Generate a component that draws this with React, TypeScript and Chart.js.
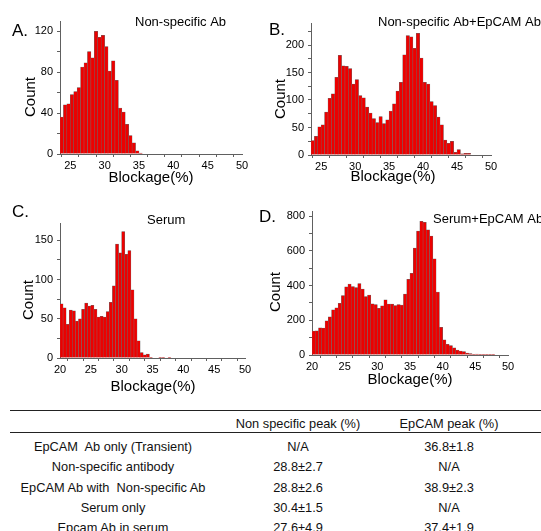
import React, { useEffect, useRef } from "react";
import { Chart, registerables } from "chart.js";

Chart.register(...registerables);

const FONT = '"Liberation Sans", Arial, Helvetica, sans-serif';

// ---------- data ----------
const BIN_WIDTH = 0.5;

// Panel A: Non-specific Ab (bins start at 23.5 %)
const A_START = 23.5;
const A_COUNTS = [36, 48, 49, 58, 61, 65, 85, 89, 100, 94, 120, 114, 116, 105, 81, 91, 72, 45, 41, 29, 18, 11, 3, 1];

// Panel B: Non-specific Ab + EpCAM Ab (bins start at 23.5 %)
const B_START = 23.5;
const B_COUNTS = [26, 34, 51, 55, 78, 103, 111, 141, 181, 162, 161, 157, 129, 137, 108, 104, 87, 76, 66, 59, 70, 57, 64, 80, 93, 116, 132, 182, 217, 215, 194, 221, 176, 132, 129, 97, 90, 69, 55, 27, 21, 25, 5, 10, 2, 3, 3];

// Panel C: Serum (bins start at 20 %)
const C_START = 20;
const C_COUNTS = [69, 64, 43, 61, 60, 47, 50, 62, 70, 66, 67, 62, 52, 53, 52, 59, 71, 92, 145, 134, 161, 132, 137, 87, 50, 22, 7, 4, 5, 1, 0, 0, 1, 1, 0, 1];

// Panel D: Serum + EpCAM Ab (bins start at 20 %)
const D_START = 20;
const D_COUNTS = [138, 140, 156, 155, 197, 220, 261, 272, 298, 342, 393, 409, 394, 389, 412, 380, 337, 346, 295, 291, 269, 284, 318, 293, 293, 285, 290, 288, 351, 436, 471, 616, 714, 771, 765, 721, 685, 555, 363, 159, 88, 61, 54, 42, 29, 23, 19, 11, 8, 4, 6, 4, 4, 2, 1, 1];

const PANEL_LETTERS = ["A.", "B.", "C.", "D."];
const PANEL_TITLES = ["Non-specific Ab", "Non-specific Ab+EpCAM Ab", "Serum", "Serum+EpCAM Ab"];
const X_TITLE = "Blockage(%)";
const Y_TITLE = "Count";

// axis ranges / tick steps
const X_MINS = [23.5, 23.5, 20, 20];
const X_MAX = 50;
const X_MINOR_STEP = 2.5;
const X_LABEL_STEP = 5;
const Y_MAXS = [130, 240, 172, 830];
const Y_MINOR_STEPS = [20, 25, 25, 100];
const Y_LABEL_STEPS = [40, 50, 50, 200];

// table
const TABLE_HEADER = ["", "Non specific peak (%)", "EpCAM peak (%)"];
const TABLE_ROW_LABELS = [
  "EpCAM  Ab only (Transient)",
  "Non-specific antibody",
  "EpCAM Ab with  Non-specific Ab",
  "Serum only",
  "Epcam Ab in serum",
];
const NONSPECIFIC_PEAK = ["N/A", "28.8±2.7", "28.8±2.6", "30.4±1.5", "27.6±4.9"];
const EPCAM_PEAK = ["36.8±1.8", "N/A", "38.9±2.3", "N/A", "37.4±1.9"];

// ---------- layout (page coordinates) ----------
type Box = { left: number; top: number; width: number; height: number };
type Area = { left: number; right: number; top: number; bottom: number };
type Pt = { x: number; y: number };

const LAYOUT: {
  canvas: Box;
  area: Area;
  letter: Pt;
  title: Pt;
  count: Pt;
  xTitle: Pt;
}[] = [
  {
    canvas: { left: 0, top: 0, width: 270, height: 197 },
    area: { left: 60, right: 242, top: 21, bottom: 154 },
    letter: { x: 12, y: 31 },
    title: { x: 135, y: 22 },
    count: { x: 31, y: 97 },
    xTitle: { x: 151, y: 178 },
  },
  {
    canvas: { left: 255, top: 0, width: 286, height: 197 },
    area: { left: 311, right: 491, top: 23, bottom: 155 },
    letter: { x: 269, y: 30 },
    title: { x: 378, y: 22 },
    count: { x: 281, y: 99 },
    xTitle: { x: 393, y: 177 },
  },
  {
    canvas: { left: 0, top: 197, width: 270, height: 203 },
    area: { left: 60, right: 245, top: 223, bottom: 358 },
    letter: { x: 12, y: 212 },
    title: { x: 147, y: 220 },
    count: { x: 29, y: 300 },
    xTitle: { x: 153, y: 387 },
  },
  {
    canvas: { left: 255, top: 197, width: 286, height: 203 },
    area: { left: 312, right: 508, top: 211, bottom: 355 },
    letter: { x: 259, y: 217 },
    title: { x: 433, y: 219 },
    count: { x: 276, y: 292 },
    xTitle: { x: 410, y: 380 },
  },
];

const STARTS = [A_START, B_START, C_START, D_START];
const COUNTS = [A_COUNTS, B_COUNTS, C_COUNTS, D_COUNTS];

const BAR_FILL = "rgb(236,0,0)";
const BAR_EDGE = "rgb(105,105,105)";
const AXIS_COLOR = "#606060";

export default function App() {
  const canvasRefs = useRef<(HTMLCanvasElement | null)[]>([]);

  useEffect(() => {
    const charts: Chart[] = [];
    LAYOUT.forEach((lay, p) => {
      const canvas = canvasRefs.current[p];
      if (!canvas) return;
      const cv = lay.canvas;
      const ar = lay.area;
      const yAxisWidth = ar.left - cv.left;
      const xAxisHeight = cv.top + cv.height - ar.bottom;
      const start = STARTS[p];
      const data = COUNTS[p].map((c, i) => ({ x: start + (i + 0.5) * BIN_WIDTH, y: c }));

      const texts = [
        { text: PANEL_LETTERS[p], x: lay.letter.x, y: lay.letter.y, size: 17, align: "left" as CanvasTextAlign, rot: false },
        { text: PANEL_TITLES[p], x: lay.title.x, y: lay.title.y, size: 13, align: "left" as CanvasTextAlign, rot: false },
        { text: Y_TITLE, x: lay.count.x, y: lay.count.y, size: 15, align: "center" as CanvasTextAlign, rot: true },
        { text: X_TITLE, x: lay.xTitle.x, y: lay.xTitle.y, size: 15, align: "center" as CanvasTextAlign, rot: false },
      ];

      const textPlugin = {
        id: "panelText" + p,
        afterDraw(chart: Chart) {
          const ctx = chart.ctx;
          ctx.save();
          ctx.fillStyle = "#000";
          ctx.textBaseline = "middle";
          for (const t of texts) {
            ctx.font = `${t.size}px ${FONT}`;
            ctx.textAlign = t.align;
            const x = t.x - cv.left;
            const y = t.y - cv.top;
            if (t.rot) {
              ctx.save();
              ctx.translate(x, y);
              ctx.rotate(-Math.PI / 2);
              ctx.fillText(t.text, 0, 0);
              ctx.restore();
            } else {
              ctx.fillText(t.text, x, y);
            }
          }
          ctx.restore();
        },
      };

      const labelStepY = Y_LABEL_STEPS[p];
      const chart = new Chart(canvas, {
        type: "bar",
        data: {
          datasets: [
            {
              data: data as any,
              backgroundColor: BAR_FILL,
              borderColor: BAR_EDGE,
              borderWidth: 0.5,
              categoryPercentage: 1,
              barPercentage: 1,
            },
          ],
        },
        options: {
          animation: false,
          responsive: false,
          devicePixelRatio: 1,
          events: [],
          layout: {
            padding: {
              left: 0,
              top: ar.top - cv.top,
              right: cv.left + cv.width - ar.right,
              bottom: 0,
            },
          },
          plugins: {
            legend: { display: false },
            tooltip: { enabled: false },
            title: { display: false },
          },
          scales: {
            x: {
              type: "linear",
              min: X_MINS[p],
              max: X_MAX,
              offset: false,
              grid: { drawOnChartArea: false, drawTicks: true, tickLength: 3, color: AXIS_COLOR },
              border: { display: true, color: AXIS_COLOR, width: 1 },
              ticks: {
                stepSize: X_MINOR_STEP,
                includeBounds: false,
                autoSkip: false,
                maxRotation: 0,
                minRotation: 0,
                maxTicksLimit: 100,
                padding: 2,
                color: "#000",
                font: { family: FONT, size: 11 },
                callback: (v: any) => (Math.abs(Number(v) % X_LABEL_STEP) < 1e-6 ? String(v) : ""),
              },
              afterFit: (s: any) => {
                s.height = xAxisHeight;
              },
            },
            y: {
              type: "linear",
              min: 0,
              max: Y_MAXS[p],
              grid: { drawOnChartArea: false, drawTicks: true, tickLength: 3, color: AXIS_COLOR },
              border: { display: true, color: AXIS_COLOR, width: 1 },
              ticks: {
                stepSize: Y_MINOR_STEPS[p],
                includeBounds: false,
                autoSkip: false,
                maxTicksLimit: 100,
                padding: 4,
                color: "#000",
                font: { family: FONT, size: 11 },
                callback: (v: any) => (Math.abs(Number(v) % labelStepY) < 1e-6 ? String(v) : ""),
              },
              afterFit: (s: any) => {
                s.width = yAxisWidth;
              },
            },
          },
        },
        plugins: [textPlugin],
      });
      charts.push(chart);
    });
    return () => {
      charts.forEach((c) => c.destroy());
    };
  }, []);

  const colCenters = [113, 298, 449];
  const headerY = 423;
  const rowY0 = 446.7;
  const rowPitch = 20.2;

  const cell = (text: string, cx: number, cy: number, key: string) => (
    <div
      key={key}
      style={{
        position: "absolute",
        left: cx - 150,
        width: 300,
        top: cy - 7.5,
        height: 15,
        lineHeight: "15px",
        fontSize: 12.8,
        textAlign: "center",
        whiteSpace: "pre",
        color: "#111",
      }}
    >
      {text}
    </div>
  );

  return (
    <div
      style={{
        position: "absolute",
        left: 0,
        top: 0,
        width: 541,
        height: 531,
        overflow: "hidden",
        background: "#fff",
        fontFamily: FONT,
      }}
    >
      {LAYOUT.map((lay, p) => (
        <canvas
          key={p}
          ref={(el) => {
            canvasRefs.current[p] = el;
          }}
          width={lay.canvas.width}
          height={lay.canvas.height}
          style={{
            position: "absolute",
            left: lay.canvas.left,
            top: lay.canvas.top,
            width: lay.canvas.width,
            height: lay.canvas.height,
          }}
        />
      ))}
      <div style={{ position: "absolute", left: 10, top: 410, width: 531, height: 0, borderTop: "1px solid #222" }} />
      <div style={{ position: "absolute", left: 10, top: 432, width: 531, height: 0, borderTop: "1px solid #222" }} />
      {TABLE_HEADER.map((h, c) => cell(h, colCenters[c], headerY, "h" + c))}
      {TABLE_ROW_LABELS.map((lab, r) => cell(lab, colCenters[0], rowY0 + r * rowPitch, "r" + r + "a"))}
      {NONSPECIFIC_PEAK.map((v, r) => cell(v, colCenters[1], rowY0 + r * rowPitch, "r" + r + "b"))}
      {EPCAM_PEAK.map((v, r) => cell(v, colCenters[2], rowY0 + r * rowPitch, "r" + r + "c"))}
    </div>
  );
}
